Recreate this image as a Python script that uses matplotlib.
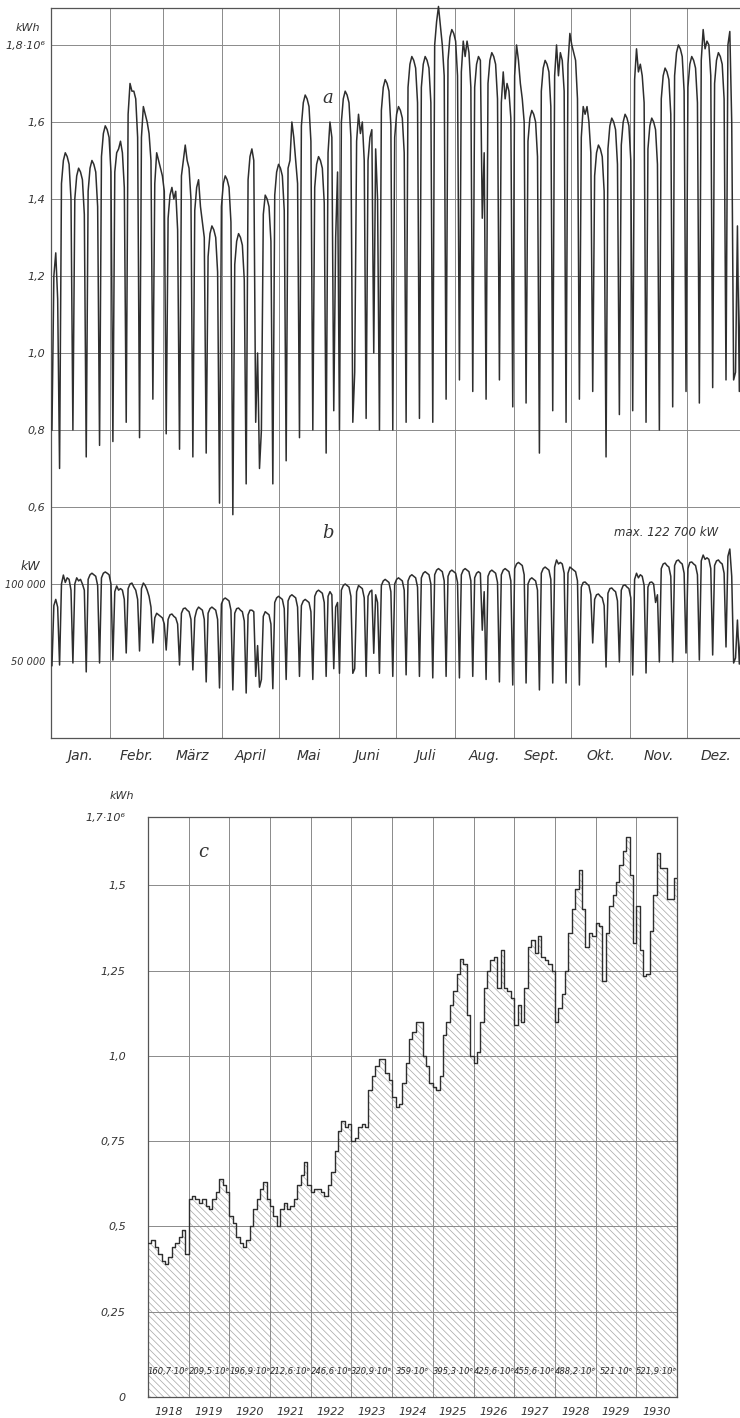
import numpy as np
import matplotlib
matplotlib.use("Agg")
import matplotlib.pyplot as plt

# ---- panel a: daily energy 1930, kWh * 10^6, one row per week (Mon..Sun) ----
a_weeks = [
    [0.80, 1.20, 1.26, 1.14, 0.70],
    [1.44, 1.50, 1.52, 1.51, 1.49, 1.40, 0.80],
    [1.40, 1.46, 1.48, 1.47, 1.45, 1.36, 0.73],
    [1.42, 1.48, 1.50, 1.49, 1.47, 1.38, 0.76],
    [1.51, 1.57, 1.59, 1.58, 1.56, 1.47, 0.77],
    [1.47, 1.52, 1.53, 1.55, 1.52, 1.43, 0.82],
    [1.62, 1.70, 1.68, 1.68, 1.66, 1.56, 0.78],
    [1.56, 1.64, 1.62, 1.60, 1.57, 1.50, 0.88],
    [1.44, 1.52, 1.50, 1.48, 1.46, 1.42, 0.79],
    [1.35, 1.41, 1.43, 1.40, 1.42, 1.32, 0.75],
    [1.46, 1.50, 1.54, 1.50, 1.48, 1.40, 0.73],
    [1.37, 1.43, 1.45, 1.38, 1.34, 1.30, 0.74],
    [1.25, 1.31, 1.33, 1.32, 1.30, 1.21, 0.61],
    [1.38, 1.44, 1.46, 1.45, 1.43, 1.34, 0.58],
    [1.23, 1.29, 1.31, 1.30, 1.28, 1.19, 0.66],
    [1.45, 1.51, 1.53, 1.50, 0.82, 1.00, 0.70],
    [0.80, 1.36, 1.41, 1.40, 1.38, 1.29, 0.66],
    [1.41, 1.47, 1.49, 1.48, 1.46, 1.37, 0.72],
    [1.48, 1.50, 1.60, 1.56, 1.50, 1.44, 0.78],
    [1.59, 1.65, 1.67, 1.66, 1.64, 1.55, 0.80],
    [1.43, 1.49, 1.51, 1.50, 1.48, 1.39, 0.74],
    [1.52, 1.60, 1.56, 0.85, 1.30, 1.47, 0.80],
    [1.60, 1.66, 1.68, 1.67, 1.65, 1.56, 0.82],
    [0.95, 1.55, 1.62, 1.57, 1.60, 1.50, 0.83],
    [1.50, 1.56, 1.58, 1.00, 1.53, 1.40, 0.80],
    [1.63, 1.69, 1.71, 1.70, 1.68, 1.59, 0.80],
    [1.56, 1.62, 1.64, 1.63, 1.61, 1.52, 0.82],
    [1.69, 1.75, 1.77, 1.76, 1.74, 1.65, 0.83],
    [1.69, 1.75, 1.77, 1.76, 1.74, 1.65, 0.82],
    [1.80, 1.86, 1.90, 1.85, 1.80, 1.72, 0.88],
    [1.76, 1.82, 1.84, 1.83, 1.81, 1.72, 0.93],
    [1.73, 1.81, 1.77, 1.81, 1.78, 1.69, 0.90],
    [1.69, 1.75, 1.77, 1.76, 1.35, 1.52, 0.88],
    [1.70, 1.76, 1.78, 1.77, 1.75, 1.66, 0.93],
    [1.65, 1.73, 1.66, 1.70, 1.68, 1.61, 0.86],
    [1.72, 1.80, 1.76, 1.70, 1.66, 1.60, 0.87],
    [1.55, 1.61, 1.63, 1.62, 1.60, 1.51, 0.74],
    [1.68, 1.74, 1.76, 1.75, 1.73, 1.64, 0.85],
    [1.72, 1.80, 1.72, 1.78, 1.76, 1.68, 0.82],
    [1.75, 1.83, 1.80, 1.78, 1.76, 1.66, 0.88],
    [1.56, 1.64, 1.62, 1.64, 1.60, 1.52, 0.90],
    [1.46, 1.52, 1.54, 1.53, 1.51, 1.42, 0.73],
    [1.53, 1.59, 1.61, 1.60, 1.58, 1.49, 0.84],
    [1.54, 1.60, 1.62, 1.61, 1.59, 1.50, 0.85],
    [1.71, 1.79, 1.73, 1.75, 1.72, 1.65, 0.82],
    [1.53, 1.59, 1.61, 1.60, 1.58, 1.49, 0.80],
    [1.66, 1.72, 1.74, 1.73, 1.71, 1.62, 0.86],
    [1.72, 1.78, 1.80, 1.79, 1.77, 1.68, 0.90],
    [1.69, 1.75, 1.77, 1.76, 1.74, 1.65, 0.87],
    [1.76, 1.84, 1.79, 1.81, 1.80, 1.72, 0.91],
    [1.70, 1.76, 1.78, 1.77, 1.75, 1.66, 0.93],
    [1.80, 1.835, 1.60, 0.93, 0.95, 1.33, 0.90],
    [1.30, 1.33, 1.20],
]

# ---- panel b: daily peak load, 1000 kW, one row per week ----
b_weeks = [
    [47, 86, 90, 85, 47.4],
    [100, 105.8, 101, 104, 103, 96, 48.7],
    [100, 104, 102, 103, 100, 96, 42.9],
    [103, 106, 107, 106, 105, 99, 48.7],
    [104, 107, 107.8, 107, 106, 100, 50.6],
    [95, 98.7, 96, 97, 96, 90, 55.2],
    [97, 100, 100.6, 98, 96, 90, 56.5],
    [97, 100.6, 99, 96, 92, 85, 61.7],
    [78, 81, 80, 79, 78, 74, 57.1],
    [77, 80, 80.5, 79, 78, 74, 47.4],
    [81, 84, 84.4, 83, 82, 77, 44.2],
    [78, 83, 85, 84, 83, 77, 36.4],
    [81, 84, 85, 84, 83, 77, 32.5],
    [87, 90, 90.9, 90, 89, 83, 31.2],
    [81, 84, 84.4, 83, 82, 76, 29.2],
    [80, 83, 83, 82, 40, 60, 33],
    [38, 79, 82, 81, 80, 74, 32],
    [88, 91, 92, 91, 90, 84, 38],
    [89, 92, 93, 92, 91, 85, 40],
    [86, 89, 90, 89, 88, 82, 38],
    [92, 95, 96, 95, 94, 88, 40],
    [92, 95, 93, 45, 85, 88, 42],
    [96, 99, 100, 99, 98, 92, 42],
    [45, 95, 99, 98, 97, 91, 40],
    [92, 95, 96, 55, 93, 88, 42],
    [99, 102, 103, 102, 101, 95, 40],
    [100, 103, 104, 103, 102, 96, 41],
    [102, 105, 106, 105, 104, 98, 40],
    [104, 107, 108, 107, 106, 100, 39],
    [106, 109, 110, 109, 108, 102, 40],
    [105, 108, 109, 108, 107, 101, 39],
    [106, 109, 110, 109, 108, 102, 40],
    [104, 107, 108, 107, 70, 95, 38],
    [105, 108, 109, 108, 107, 101, 36.4],
    [106, 109, 110, 109, 108, 102, 34.4],
    [110, 113, 114, 113, 112, 106, 35.7],
    [100, 103, 104, 103, 102, 96, 31.2],
    [107, 110, 111, 110, 109, 103, 35.7],
    [111, 115.6, 113, 114, 113, 107, 35.7],
    [107, 111, 110, 109, 108, 102, 34.4],
    [98, 101, 101.3, 100, 99, 93, 61.7],
    [90, 93, 93.5, 92, 91, 86, 46.1],
    [94, 97, 97.4, 96, 95, 89, 49.4],
    [96, 99, 99.4, 98, 97, 91, 40.9],
    [103, 107, 104, 106, 105, 99, 42.2],
    [98, 101, 101.3, 100, 88, 93, 49.4],
    [110, 113, 113.6, 112, 111, 105, 49.4],
    [112, 115, 115.6, 114, 113, 107, 55.2],
    [110, 114, 114.3, 113, 112, 106, 50.6],
    [115, 118.8, 116, 117, 116, 110, 53.9],
    [112, 115, 115.6, 114, 113, 107, 59.1],
    [118, 122.7, 105, 48.7, 52, 76.6, 48],
    [72, 76, 70],
]

month_names = ["Jan.", "Febr.", "März", "April", "Mai", "Juni",
               "Juli", "Aug.", "Sept.", "Okt.", "Nov.", "Dez."]
month_days = [31, 28, 31, 30, 31, 30, 31, 31, 30, 31, 30, 31]

# ---- panel c: monthly values 1918-1930, kWh * 10^6 ----
years = [1918, 1919, 1920, 1921, 1922, 1923, 1924, 1925, 1926, 1927, 1928, 1929, 1930]
c_1918 = [0.45, 0.46, 0.44, 0.42, 0.40, 0.39, 0.41, 0.44, 0.45, 0.47, 0.49, 0.42]
c_1919 = [0.58, 0.59, 0.58, 0.57, 0.58, 0.56, 0.55, 0.58, 0.60, 0.64, 0.62, 0.60]
c_1920 = [0.53, 0.51, 0.47, 0.45, 0.44, 0.46, 0.50, 0.55, 0.58, 0.61, 0.63, 0.58]
c_1921 = [0.56, 0.53, 0.50, 0.55, 0.57, 0.55, 0.56, 0.58, 0.62, 0.65, 0.69, 0.62]
c_1922 = [0.60, 0.61, 0.61, 0.60, 0.59, 0.62, 0.66, 0.72, 0.78, 0.81, 0.79, 0.80]
c_1923 = [0.75, 0.76, 0.79, 0.80, 0.79, 0.90, 0.94, 0.97, 0.99, 0.99, 0.95, 0.93]
c_1924 = [0.88, 0.85, 0.86, 0.92, 0.98, 1.05, 1.07, 1.10, 1.10, 1.00, 0.97, 0.92]
c_1925 = [0.91, 0.90, 0.94, 1.06, 1.10, 1.15, 1.19, 1.24, 1.285, 1.27, 1.12, 1.00]
c_1926 = [0.98, 1.01, 1.10, 1.20, 1.25, 1.28, 1.29, 1.20, 1.31, 1.20, 1.19, 1.17]
c_1927 = [1.09, 1.15, 1.10, 1.20, 1.32, 1.34, 1.30, 1.35, 1.29, 1.28, 1.27, 1.25]
c_1928 = [1.10, 1.14, 1.18, 1.25, 1.36, 1.43, 1.49, 1.545, 1.43, 1.32, 1.36, 1.35]
c_1929 = [1.39, 1.38, 1.22, 1.36, 1.44, 1.47, 1.51, 1.56, 1.60, 1.64, 1.53, 1.33]
c_1930 = [1.44, 1.31, 1.235, 1.24, 1.365, 1.47, 1.595, 1.55, 1.55, 1.46, 1.46, 1.52]
year_totals = ["160,7·10⁶", "209,5·10⁶", "196,9·10⁶", "212,6·10⁶", "246,6·10⁶",
               "320,9·10⁶", "359·10⁶", "395,3·10⁶", "425,6·10⁶", "455,6·10⁶",
               "488,2·10⁶", "521·10⁶", "521,9·10⁶"]

LINE = "#2e2e2e"
GRID = "#8a8a8a"
TXT = "#333333"

W, H = 740, 1418
fig = plt.figure(figsize=(W / 100, H / 100), dpi=100)

def fx(px):
    return px / W

def fy(py):
    return 1 - py / H

# ---------------- panels a + b ----------------
ax_a = fig.add_axes([fx(51), fy(738), fx(746) - fx(51), fy(8) - fy(738)])
ax_b = ax_a.twinx()

daily_a = np.concatenate([np.array(w, dtype=float) for w in a_weeks])
daily_b = np.concatenate([np.array(w, dtype=float) for w in b_weeks]) * 1000
days = np.arange(len(daily_a)) + 0.5

ax_a.plot(days, daily_a, color=LINE, lw=1.1, clip_on=False, zorder=3)
ax_b.plot(days, daily_b, color=LINE, lw=1.1, zorder=3)

ax_a.set_xlim(0, 365)
ax_a.set_ylim(0, 1.896)
ax_b.set_ylim(0, 1.896 * 250000)

month_starts = np.cumsum([0] + month_days)
month_centers = (month_starts[:-1] + month_starts[1:]) / 2
ax_a.set_xticks(month_centers)
ax_a.set_xticklabels(month_names, fontsize=10, style="italic", color=TXT)
ax_a.set_xticks(month_starts[1:-1], minor=True)

a_ticks = [0.2, 0.4, 0.6, 0.8, 1.0, 1.2, 1.4, 1.6, 1.8]
a_labels = ["", "", "0,6", "0,8", "1,0", "1,2", "1,4", "1,6", "1,8·10⁶"]
ax_a.set_yticks(a_ticks)
ax_a.set_yticklabels(a_labels, fontsize=8, style="italic", color=TXT)
ax_a.tick_params(axis="both", which="both", length=0)
ax_a.tick_params(axis="y", pad=4)
ax_a.tick_params(axis="x", pad=8)

ax_b.set_yticks([50000, 100000])
ax_b.set_yticklabels(["50 000", "100 000"], fontsize=7, style="italic", color=TXT)
ax_b.yaxis.set_ticks_position("left")
ax_b.tick_params(axis="y", length=0, pad=4)

ax_a.grid(False)
ax_a.yaxis.grid(True, which="major", color=GRID, lw=0.7)
ax_a.xaxis.grid(True, which="minor", color=GRID, lw=0.7)
ax_a.set_axisbelow(True)
for s in ax_a.spines.values():
    s.set_color("#555555")
    s.set_linewidth(0.9)
ax_a.spines["right"].set_visible(False)
for s in ax_b.spines.values():
    s.set_visible(False)

fig.text(fx(28), fy(28), "kWh", fontsize=8, style="italic", color=TXT, ha="center", va="center")
fig.text(fx(30), fy(566), "kW", fontsize=9, style="italic", color=TXT, ha="center", va="center")
fig.text(fx(328), fy(98), "a", fontsize=13, family="DejaVu Serif", style="italic", color=TXT,
         ha="center", va="center")
fig.text(fx(328), fy(533), "b", fontsize=13, family="DejaVu Serif", style="italic", color=TXT,
         ha="center", va="center")
fig.text(fx(666), fy(532), "max. 122 700 kW", fontsize=8.5, style="italic", color=TXT,
         ha="center", va="center")

# ---------------- panel c ----------------
ax_c = fig.add_axes([fx(148), fy(1397), fx(677) - fx(148), fy(817) - fy(1397)])
c_vals = np.concatenate([c_1918, c_1919, c_1920, c_1921, c_1922, c_1923, c_1924,
                         c_1925, c_1926, c_1927, c_1928, c_1929, c_1930])
edges = np.arange(len(c_vals) + 1)
c_ext = np.append(c_vals, c_vals[-1])

plt.rcParams["hatch.linewidth"] = 0.5
plt.rcParams["hatch.color"] = "#a5a5a5"
ax_c.fill_between(edges, c_ext, step="post", facecolor="white", hatch="\\\\\\\\\\",
                  edgecolor="#a5a5a5", linewidth=0, zorder=1)
ax_c.step(edges, c_ext, where="post", color=LINE, lw=1.0, zorder=3)

ax_c.set_xlim(0, len(c_vals))
ax_c.set_ylim(0, 1.7)
ax_c.set_xticks(np.arange(len(years)) * 12 + 6)
ax_c.set_xticklabels([str(y) for y in years], fontsize=8, style="italic", color=TXT)
ax_c.set_xticks(np.arange(1, len(years)) * 12, minor=True)
ax_c.set_yticks([0, 0.25, 0.5, 0.75, 1.0, 1.25, 1.5, 1.7])
ax_c.set_yticklabels(["0", "0,25", "0,5", "0,75", "1,0", "1,25", "1,5", "1,7·10⁶"],
                     fontsize=8, style="italic", color=TXT)
ax_c.tick_params(axis="both", which="both", length=0)
ax_c.tick_params(axis="y", pad=16)
ax_c.tick_params(axis="x", pad=7)
ax_c.grid(False)
ax_c.yaxis.grid(True, which="major", color=GRID, lw=0.7, zorder=2)
ax_c.xaxis.grid(True, which="minor", color=GRID, lw=0.7, zorder=2)
for s in ax_c.spines.values():
    s.set_color("#555555")
    s.set_linewidth(0.9)

for i, lab in enumerate(year_totals):
    ax_c.text(i * 12 + 6, 0.075, lab, fontsize=6, style="italic", color="#2a2a2a",
              family=["Liberation Sans Narrow", "DejaVu Sans"],
              ha="center", va="center", zorder=4)

fig.text(fx(122), fy(796), "kWh", fontsize=8, style="italic", color=TXT, ha="center", va="center")
fig.text(fx(203), fy(852), "c", fontsize=13, family="DejaVu Serif", style="italic", color=TXT,
         ha="center", va="center")

fig.savefig("out.png", dpi=100, facecolor="white")
